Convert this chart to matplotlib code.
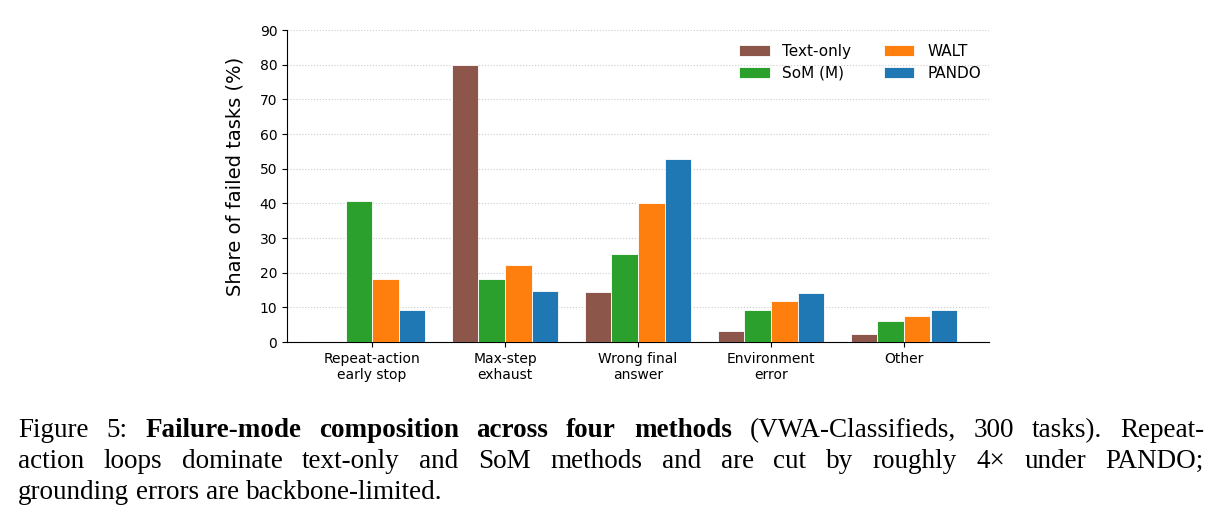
import numpy as np
import matplotlib
matplotlib.use("Agg")
import matplotlib.pyplot as plt

categories = ["Repeat-action\nearly stop", "Max-step\nexhaust", "Wrong final\nanswer",
              "Environment\nerror", "Other"]
methods = ["Text-only", "SoM (M)", "WALT", "PANDO"]
text_only = [0.4, 79.8, 14.5, 3.1, 2.3]
som = [40.7, 18.3, 25.5, 9.3, 6.0]
walt = [18.3, 22.3, 40.0, 11.7, 7.4]
pando = [9.1, 14.6, 52.9, 14.0, 9.1]
colors = ["#8c564b", "#2ca02c", "#ff7f0e", "#1f77b4"]

caption_lines = [
    [("Figure 5:", "normal"), ("Failure-mode composition across four methods", "bold"),
     ("(VWA-Classifieds, 300 tasks). Repeat-", "normal")],
    [("action loops dominate text-only and SoM methods and are cut by roughly 4\u00d7 under PANDO;", "normal")],
    [("grounding errors are backbone-limited.", "normal")],
]

W, H = 1223, 528
fig = plt.figure(figsize=(W / 100, H / 100), dpi=100)
ax = fig.add_axes([287 / W, 1 - 342 / H, (989 - 287) / W, (342 - 30) / H])

x = np.arange(len(categories))
width = 0.2
series = [text_only, som, walt, pando]
for i, (name, vals, c) in enumerate(zip(methods, series, colors)):
    ax.bar(x + (i - 1.5) * width, vals, width, color=c, label=name,
           edgecolor="white", linewidth=0.6, zorder=3)

ax.set_ylim(0, 90)
ax.set_yticks(range(0, 91, 10))
ax.set_xticks(x)
ax.set_xticklabels(categories, fontsize=10)
ax.tick_params(axis="y", labelsize=10)
ax.set_ylabel("Share of failed tasks (%)", fontsize=14)
ax.yaxis.set_label_coords(-0.06, 0.532)
ax.grid(axis="y", linestyle=":", color="#cccccc", linewidth=0.8, zorder=0)
ax.spines["top"].set_visible(False)
ax.spines["right"].set_visible(False)

ax.legend(ncol=2, frameon=False, fontsize=11, loc="upper right",
          bbox_to_anchor=(1.008, 1.0), handlelength=2.0, handleheight=0.7,
          handletextpad=0.85, columnspacing=2.1, labelspacing=0.45)

# caption, justified line by line like the LaTeX source
renderer = fig.canvas.get_renderer()
left, right = 18, 1204
baselines = [437, 468, 499]
for li, (segs, base) in enumerate(zip(caption_lines, baselines)):
    words = []
    for txt, wt in segs:
        for w in txt.split(" "):
            words.append((w, wt))
    objs = []
    for w, wt in words:
        t = fig.text(0, 1 - base / H, w, fontsize=19.5, family="Liberation Serif",
                     weight=wt, va="baseline", ha="left")
        objs.append(t)
    widths = [t.get_window_extent(renderer).width for t in objs]
    if li < len(caption_lines) - 1:
        gap = (right - left - sum(widths)) / (len(objs) - 1)
    else:
        gap = 7.0
    pos = left
    for t, wdt in zip(objs, widths):
        t.set_x(pos / W)
        pos += wdt + gap

fig.savefig("out.png", dpi=100)
